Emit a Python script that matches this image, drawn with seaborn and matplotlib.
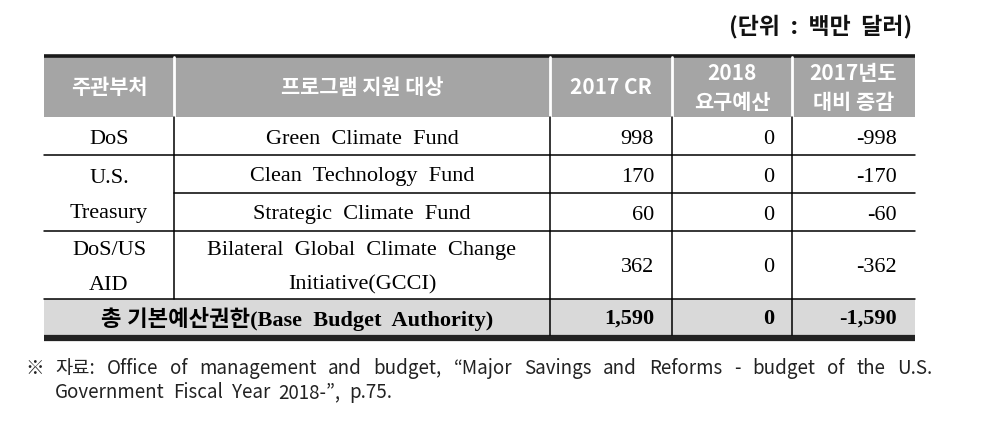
import matplotlib
matplotlib.use("Agg")
import matplotlib.pyplot as plt
import seaborn as sns
from matplotlib.patches import Rectangle

sns.set_theme(style="white")
plt.rcParams['font.family'] = ['Liberation Serif', 'Noto Sans CJK KR', 'DejaVu Sans']

# ---- data ----
unit_label = "(단위  :  백만  달러)"
headers = ["주관부처", "프로그램 지원 대상", "2017 CR", "2018\n요구예산", "2017년도\n대비 증감"]
departments = ["DoS", "U.S.\nTreasury", "DoS/US\nAID"]
dept_row_spans = [1, 2, 1]
programs = ["Green  Climate  Fund", "Clean  Technology  Fund", "Strategic  Climate  Fund",
            "Bilateral  Global  Climate  Change\nInitiative(GCCI)"]
cr_2017 = [998, 170, 60, 362]
request_2018 = [0, 0, 0, 0]
change_vs_2017 = [-998, -170, -60, -362]
total_label = "총 기본예산권한(Base  Budget  Authority)"
total_values = [1590, 0, -1590]
note_mark = "※"
note_line1 = "자료: Office of management and budget, “Major Savings and Reforms - budget of the U.S."
note_line2 = "Government Fiscal Year 2018-”, p.75."

# ---- layout ----
W, H = 982, 430
fig = plt.figure(figsize=(W / 100, H / 100), dpi=100)
ax = fig.add_axes([0, 0, 1, 1])
ax.set_xlim(0, W)
ax.set_ylim(H, 0)
ax.axis("off")

col_edges = [44, 174, 550, 672, 792, 915]
row_edges = [117, 155, 193, 231, 299]
head_top, head_bot = 57, 117
total_top, total_bot = 299, 335

hdr_font = ['Noto Sans CJK KR', 'DejaVu Sans']
body_font = ['Liberation Serif', 'Noto Sans CJK KR']

# unit label
ax.text(912, 26, unit_label, ha="right", va="center", fontsize=16.5, fontweight="bold",
        family=hdr_font, color="#111111")

# header band
ax.add_patch(Rectangle((col_edges[0], head_top), col_edges[-1] - col_edges[0], head_bot - head_top,
                       facecolor="#a5a5a5", edgecolor="none"))
ax.plot([col_edges[0], col_edges[-1]], [55.5, 55.5], color="#1a1a1a", lw=2.6, solid_capstyle="butt")
for x in col_edges[1:-1]:
    ax.plot([x, x], [head_top, head_bot], color="white", lw=2)
for i, h in enumerate(headers):
    cx = (col_edges[i] + col_edges[i + 1]) / 2
    ax.text(cx, (head_top + head_bot) / 2 + 1, h, ha="center", va="center", fontsize=15,
            fontweight="bold", color="white", family=hdr_font, linespacing=1.5)

# total row background
ax.add_patch(Rectangle((col_edges[0], total_top), col_edges[-1] - col_edges[0], total_bot - total_top,
                       facecolor="#d9d9d9", edgecolor="none"))
ax.plot([col_edges[0], col_edges[-1]], [337.5, 337.5], color="#222222", lw=4.5, solid_capstyle="butt")

# horizontal body lines
lw = 1.1
for k, y in enumerate(row_edges[1:]):
    x0 = col_edges[1] if k == 1 else col_edges[0]
    ax.plot([x0, col_edges[-1]], [y, y], color="black", lw=lw)
# vertical body lines
ax.plot([col_edges[1]] * 2, [head_bot, total_top], color="black", lw=lw)
for x in col_edges[2:-1]:
    ax.plot([x, x], [head_bot, total_bot], color="black", lw=lw)

fs = 16
dy = 3
# departments
r = 0
for d, span in zip(departments, dept_row_spans):
    y0, y1 = row_edges[r], row_edges[r + span]
    ax.text((col_edges[0] + col_edges[1]) / 2, (y0 + y1) / 2 + dy, d, ha="center", va="center",
            fontsize=fs, family=body_font, color="black", linespacing=2.15)
    r += span

# programs & numbers
for i, p in enumerate(programs):
    yc = (row_edges[i] + row_edges[i + 1]) / 2 + dy
    ax.text((col_edges[1] + col_edges[2]) / 2, yc, p, ha="center", va="center", fontsize=fs,
            family=body_font, color="black", linespacing=2.05)
    for j, v in enumerate([cr_2017[i], request_2018[i], change_vs_2017[i]]):
        ax.text(col_edges[j + 3] - 18, yc, f"{v:,}", ha="right", va="center", fontsize=fs,
                family=body_font, color="black")

# total row
yc = (total_top + total_bot) / 2 + 2
ax.text((col_edges[0] + col_edges[2]) / 2, yc, total_label, ha="center", va="center", fontsize=fs,
        fontweight="bold", family=body_font, color="black")
for j, v in enumerate(total_values):
    ax.text(col_edges[j + 3] - 18, yc, f"{v:,}", ha="right", va="center", fontsize=fs,
            fontweight="bold", family=body_font, color="black")

# source note (justified lines, common baseline per line)
note_fs = 13.5
renderer = fig.canvas.get_renderer()


def word_widths(words):
    ws = []
    for w in words:
        t = ax.text(0, 0, w, fontsize=note_fs, family=hdr_font)
        ws.append(t.get_window_extent(renderer).width)
        t.remove()
    return ws


def justified(line, y_base, x_start, x_end):
    words = line.split(" ")
    ws = word_widths(words)
    gap = (x_end - x_start - sum(ws)) / (len(words) - 1)
    x = x_start
    for w, wd in zip(words, ws):
        ax.text(x, y_base, w, ha="left", va="baseline", fontsize=note_fs, family=hdr_font,
                color="#222222")
        x += wd + gap


ax.text(25, 374, note_mark, ha="left", va="baseline", fontsize=note_fs, family=hdr_font, color="#222222")
justified(note_line1, 374, 55, 932)
justified(note_line2, 398, 55, 392)

fig.savefig("out.png", dpi=100, facecolor="white")
